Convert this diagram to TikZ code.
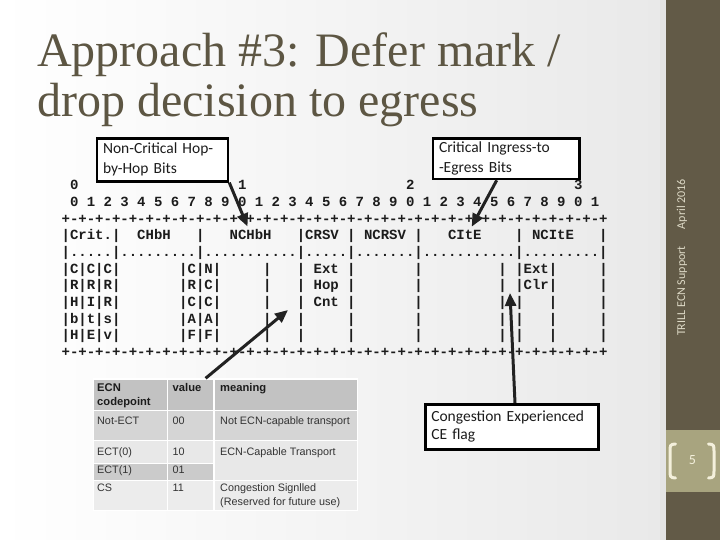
\documentclass[tikz,border=0pt]{standalone}
\usepackage{fontspec}
\setmainfont{Liberation Serif}
\newfontfamily\monof{Liberation Mono}
\newfontfamily\calf{Carlito}
\newfontfamily\arialf{Liberation Sans}
\usetikzlibrary{arrows.meta,calc}
\definecolor{ink}{HTML}{1C1C1C}
\definecolor{titlec}{HTML}{5D5643}
\definecolor{sidebarc}{HTML}{625A47}
\definecolor{numboxc}{HTML}{A8A47F}
\definecolor{stripc}{HTML}{E4E4E4}
\definecolor{bgR}{HTML}{E9E9E9}
\definecolor{sidetext}{HTML}{DDD9C6}
\definecolor{bracketc}{HTML}{F4F0DC}
\definecolor{arrowc}{HTML}{222222}
\definecolor{hdrc}{HTML}{C2C2C2}
\definecolor{rowa}{HTML}{D5D5D5}
\definecolor{rowb}{HTML}{E8E8E8}
\definecolor{rowc}{HTML}{CBCBCB}
\definecolor{rowd}{HTML}{ECECEC}
\definecolor{tabtext}{HTML}{333333}
\newcommand\blk[1]{\kern#1\fontcharwd\font`\0\relax}
\newcommand\dg[1]{\blk{1}#1}
\newcommand\plusrun{+-+-+-+-+-+-+-+-}
\begin{document}
\begin{tikzpicture}[x=1pt,y=-1pt,
  asc/.style={anchor=base west, inner sep=0pt, font=\monof\bfseries\fontsize{14}{16}\selectfont, text=ink},
  callout/.style={draw=black, line width=2.6pt, fill=white, anchor=north west, inner xsep=6pt, inner ysep=0pt, align=left, text=ink, font=\calf\fontsize{15.5}{20}\selectfont},
  pointer/.style={draw=arrowc, line width=3pt, -{Triangle[length=13pt,width=11pt]}},
  cell/.style={draw=white, line width=1.2pt, inner sep=0pt, anchor=north west},
  tcell/.style={anchor=base west, inner sep=0pt, font=\arialf\fontsize{10.8}{15}\selectfont, text=tabtext},
  thead/.style={anchor=base west, inner sep=0pt, font=\arialf\bfseries\fontsize{11.2}{15}\selectfont, text=ink},
  titlest/.style={anchor=base west, inner sep=0pt, text=titlec, font=\fontsize{48}{50}\selectfont},
  bracket/.style={draw=bracketc, line width=3pt, line cap=round}
]
\useasboundingbox (0,0) rectangle (720,540);
% background
\shade[left color=white, right color=bgR] (0,0) rectangle (662,540);
\fill[stripc] (660,0) rectangle (666,540);
\fill[sidebarc] (666,0) rectangle (720,540);
\fill[numboxc] (666,430) rectangle (720,492);
% title
\node[titlest] (t1) at (37,66.7) {Approach \#3: Defer mark /};
\node[titlest] (t2) at (37,116.7) {drop decision to egress};
% sidebar
\node[rotate=90, inner sep=0pt, font=\calf\fontsize{12}{14}\selectfont, text=sidetext] (side) at (682,257.5) {TRILL ECN Support\hspace{17pt}April 2016};
\draw[bracket] (675.5,444) .. controls (670,444) and (670,446) .. (670,451) -- (670,471) .. controls (670,476) and (670,478) .. (675.5,478);
\draw[bracket] (708.5,444) .. controls (714,444) and (714,446) .. (714,451) -- (714,471) .. controls (714,476) and (714,478) .. (708.5,478);
\node[inner sep=0pt, font=\calf\fontsize{14}{16}\selectfont, text=bracketc] (pg) at (692.5,460) {5};
% ascii header diagram
\node[asc] (r0) at (61.4,189.6) {\blk{1}0\blk{19}1\blk{19}2\blk{19}3};
\node[asc] (r1) at (61.4,206.3) {\dg0\dg1\dg2\dg3\dg4\dg5\dg6\dg7\dg8\dg9\dg0\dg1\dg2\dg3\dg4\dg5\dg6\dg7\dg8\dg9\dg0\dg1\dg2\dg3\dg4\dg5\dg6\dg7\dg8\dg9\dg0\dg1};
\node[asc] (r2) at (61.4,223.0) {\plusrun\plusrun\plusrun\plusrun+};
\node[asc] (r3) at (61.4,239.7) {|Crit.|\blk{2}CHbH\blk{3}|\blk{3}NCHbH\blk{3}|CRSV\blk{1}|\blk{1}NCRSV\blk{1}|\blk{3}CItE\blk{4}|\blk{1}NCItE\blk{3}|};
\node[asc] (r4) at (61.4,256.4) {|.....|.........|...........|.....|.......|...........|.........|};
\node[asc] (r5) at (61.4,273.1) {|C|C|C|\blk{7}|C|N|\blk{5}|\blk{3}|\blk{1}Ext\blk{1}|\blk{7}|\blk{9}|\blk{1}|Ext|\blk{5}|};
\node[asc] (r6) at (61.4,289.8) {|R|R|R|\blk{7}|R|C|\blk{5}|\blk{3}|\blk{1}Hop\blk{1}|\blk{7}|\blk{9}|\blk{1}|Clr|\blk{5}|};
\node[asc] (r7) at (61.4,306.5) {|H|I|R|\blk{7}|C|C|\blk{5}|\blk{3}|\blk{1}Cnt\blk{1}|\blk{7}|\blk{9}|\blk{1}|\blk{3}|\blk{5}|};
\node[asc] (r8) at (61.4,323.2) {|b|t|s|\blk{7}|A|A|\blk{5}|\blk{3}|\blk{5}|\blk{7}|\blk{9}|\blk{1}|\blk{3}|\blk{5}|};
\node[asc] (r9) at (61.4,339.9) {|H|E|v|\blk{7}|F|F|\blk{5}|\blk{3}|\blk{5}|\blk{7}|\blk{9}|\blk{1}|\blk{3}|\blk{5}|};
\node[asc] (r10) at (61.4,356.6) {\plusrun\plusrun\plusrun\plusrun+};
% table
\node[cell, fill=hdrc, minimum width=73.7pt, minimum height=31.7pt] (c11) at (93,378.3) {};
\node[cell, fill=hdrc, minimum width=46.6pt, minimum height=31.7pt] (c12) at (166.7,378.3) {};
\node[cell, fill=hdrc, minimum width=143.4pt, minimum height=31.7pt] (c13) at (213.3,378.3) {};
\node[cell, fill=rowa, minimum width=73.7pt, minimum height=30pt] (c21) at (93,410) {};
\node[cell, fill=rowa, minimum width=46.6pt, minimum height=30pt] (c22) at (166.7,410) {};
\node[cell, fill=rowa, minimum width=143.4pt, minimum height=30pt] (c23) at (213.3,410) {};
\node[cell, fill=rowb, minimum width=73.7pt, minimum height=22.7pt] (c31) at (93,440) {};
\node[cell, fill=rowb, minimum width=46.6pt, minimum height=22.7pt] (c32) at (166.7,440) {};
\node[cell, fill=rowb, minimum width=143.4pt, minimum height=40pt] (c33) at (213.3,440) {};
\node[cell, fill=rowc, minimum width=73.7pt, minimum height=17.3pt] (c41) at (93,462.7) {};
\node[cell, fill=rowc, minimum width=46.6pt, minimum height=17.3pt] (c42) at (166.7,462.7) {};
\node[cell, fill=rowd, minimum width=73.7pt, minimum height=30pt] (c51) at (93,480) {};
\node[cell, fill=rowd, minimum width=46.6pt, minimum height=30pt] (c52) at (166.7,480) {};
\node[cell, fill=rowd, minimum width=143.4pt, minimum height=30pt] (c53) at (213.3,480) {};
\node[thead] (h1a) at (97,391) {ECN};
\node[thead] (h1b) at (97,405.5) {codepoint};
\node[thead] (h2) at (172.5,391) {value};
\node[thead] (h3) at (220,391) {meaning};
\node[tcell] (v21) at (97,424.5) {Not-ECT};
\node[tcell] (v22) at (172.5,424.5) {00};
\node[tcell] (v23) at (220,424.5) {Not ECN-capable transport};
\node[tcell] (v31) at (97,455.5) {ECT(0)};
\node[tcell] (v32) at (172.5,455.5) {10};
\node[tcell] (v33) at (220,455.5) {ECN-Capable Transport};
\node[tcell] (v41) at (97,473) {ECT(1)};
\node[tcell] (v42) at (172.5,473) {01};
\node[tcell] (v51) at (97,491) {CS};
\node[tcell] (v52) at (172.5,491) {11};
\node[tcell] (v53a) at (220,491) {Congestion Signlled};
\node[tcell] (v53b) at (220,505.5) {(Reserved for future use)};
% callouts
\node[callout, text width=119pt, minimum height=43pt] (b1) at (95.7,137) {Non-Critical Hop-\\by-Hop Bits};
\node[callout, text width=134.6pt, minimum height=40.7pt] (b2) at (431.7,137) {Critical Ingress-to\\-Egress Bits};
\node[callout, text width=161pt, minimum height=45pt, font=\calf\fontsize{15.5}{18}\selectfont] (b3) at (424,403) {Congestion Experienced\\CE flag};
% pointers
\coordinate (tip1) at (247.5,226.5);
\coordinate (tip2) at (471.7,226.7);
\coordinate (tip3) at (510,293);
\coordinate (tip4) at (288,310);
\draw[pointer] (b1.south east) -- (tip1);
\draw[pointer] ($(b2.south west)+(65,0)$) -- (tip2);
\draw[pointer] ($(b3.north west)+(91,0)$) -- (tip3);
\draw[pointer] ($(c12.north)+(15,0)$) -- (tip4);
\end{tikzpicture}
\end{document}
